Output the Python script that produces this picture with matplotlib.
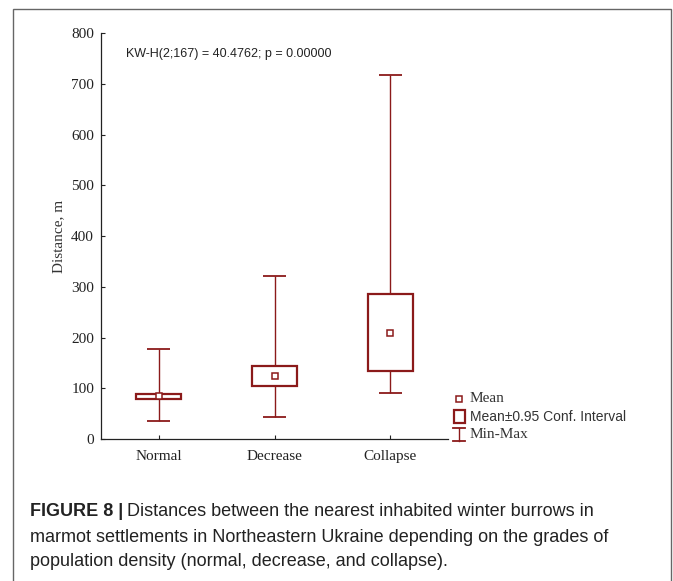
import matplotlib
matplotlib.use('Agg')
import matplotlib.pyplot as plt
from matplotlib.patches import Rectangle
from matplotlib.lines import Line2D

# values
groups = ['Normal', 'Decrease', 'Collapse']
means = [84, 124, 210]
ci_low = [79, 104, 135]
ci_high = [89, 143, 285]
mins = [36, 43, 91]
maxs = [177, 322, 718]

red = '#8b1a1a'
serif = ['Liberation Serif', 'DejaVu Serif']
sans = ['Liberation Sans', 'DejaVu Sans']

fig = plt.figure(figsize=(6.73, 5.81), dpi=100)
ax = fig.add_axes([101 / 673, 1 - 439 / 581, 347 / 673, 405.7 / 581])

box_w = 0.39
cap_w = 0.2
for i in range(len(groups)):
    # whiskers
    ax.vlines(i, ci_high[i], maxs[i], color=red, lw=1.0, zorder=2)
    ax.vlines(i, mins[i], ci_low[i], color=red, lw=1.0, zorder=2)
    ax.hlines([mins[i], maxs[i]], i - cap_w / 2, i + cap_w / 2, color=red, lw=1.3, zorder=2)
    # conf. interval box
    ax.add_patch(Rectangle((i - box_w / 2, ci_low[i]), box_w, ci_high[i] - ci_low[i],
                           facecolor='white', edgecolor=red, lw=1.6, zorder=3))
    if ci_high[i] - ci_low[i] < 20:
        ax.vlines(i, ci_low[i], ci_high[i], color=red, lw=1.0, zorder=4)
    ax.plot(i, means[i], marker='s', ms=5, mfc='white', mec=red, mew=1.1, zorder=5)

ax.set_xlim(-0.5, 2.5)
ax.set_ylim(0, 800)
ax.set_xticks(range(len(groups)))
ax.set_xticklabels(groups, family=serif, fontsize=11, color='#333333')
ax.set_yticks(range(0, 801, 100))
ax.set_yticklabels([str(v) for v in range(0, 801, 100)], family=serif, fontsize=11, color='#333333')
ax.tick_params(direction='in', length=3, width=0.8, colors='#222222', pad=5)
ax.tick_params(axis='x', pad=8)
for s in ['top', 'right']:
    ax.spines[s].set_visible(False)
for s in ['left', 'bottom']:
    ax.spines[s].set_linewidth(0.9)
    ax.spines[s].set_color('#222222')
ax.set_ylabel('Distance, m', family=serif, fontsize=11, color='#333333', labelpad=4)

ax.text(126 / 673, 1 - 54 / 581, 'KW-H(2;167) = 40.4762; p = 0.00000', transform=fig.transFigure,
        family=sans, fontsize=9.0, va='center', color='#222222')


# legend (drawn by hand)
def fx(px):
    return px / 673


def fy(py):
    return 1 - py / 581


fig.add_artist(Line2D([fx(459)], [fy(399)], marker='s', ms=5, mfc='white', mec=red, mew=1.1,
                      transform=fig.transFigure))
fig.add_artist(Rectangle((fx(453.5), fy(423)), fx(11), 13 / 581, facecolor='white', edgecolor=red,
                         lw=1.6, transform=fig.transFigure))
fig.add_artist(Line2D([fx(459), fx(459)], [fy(428), fy(441)], color=red, lw=1.0, transform=fig.transFigure))
fig.add_artist(Line2D([fx(453), fx(465)], [fy(428), fy(428)], color=red, lw=1.3, transform=fig.transFigure))
fig.add_artist(Line2D([fx(453), fx(465)], [fy(441), fy(441)], color=red, lw=1.3, transform=fig.transFigure))
fig.text(fx(470), fy(399), 'Mean', family=serif, fontsize=11, va='center', color='#333333')
fig.text(fx(470), fy(417), 'Mean\u00b10.95 Conf. Interval', family=sans,
         fontsize=10, va='center', color='#333333')
fig.text(fx(470), fy(435), 'Min-Max', family=serif, fontsize=11, va='center', color='#333333')

# caption
t1 = fig.text(fx(30), fy(511), 'FIGURE 8 |', family=sans, fontsize=13, weight='bold', va='center',
              color='#222222')
fig.canvas.draw()
bb = t1.get_window_extent()
fig.text(bb.x1 / fig.bbox.width + 0.006, fy(511), 'Distances between the nearest inhabited winter burrows in',
         family=sans, fontsize=13, va='center', color='#222222')
fig.text(fx(30), fy(537), 'marmot settlements in Northeastern Ukraine depending on the grades of',
         family=sans, fontsize=13, va='center', color='#222222')
fig.text(fx(30), fy(562), 'population density (normal, decrease, and collapse).',
         family=sans, fontsize=13, va='center', color='#222222')

# outer frame
fig.add_artist(Rectangle((fx(13), -0.02), fx(658), 1.02 - 9 / 581, fill=False, edgecolor='#666666',
                         lw=1.0, transform=fig.transFigure))

fig.savefig('out.png', dpi=100)
